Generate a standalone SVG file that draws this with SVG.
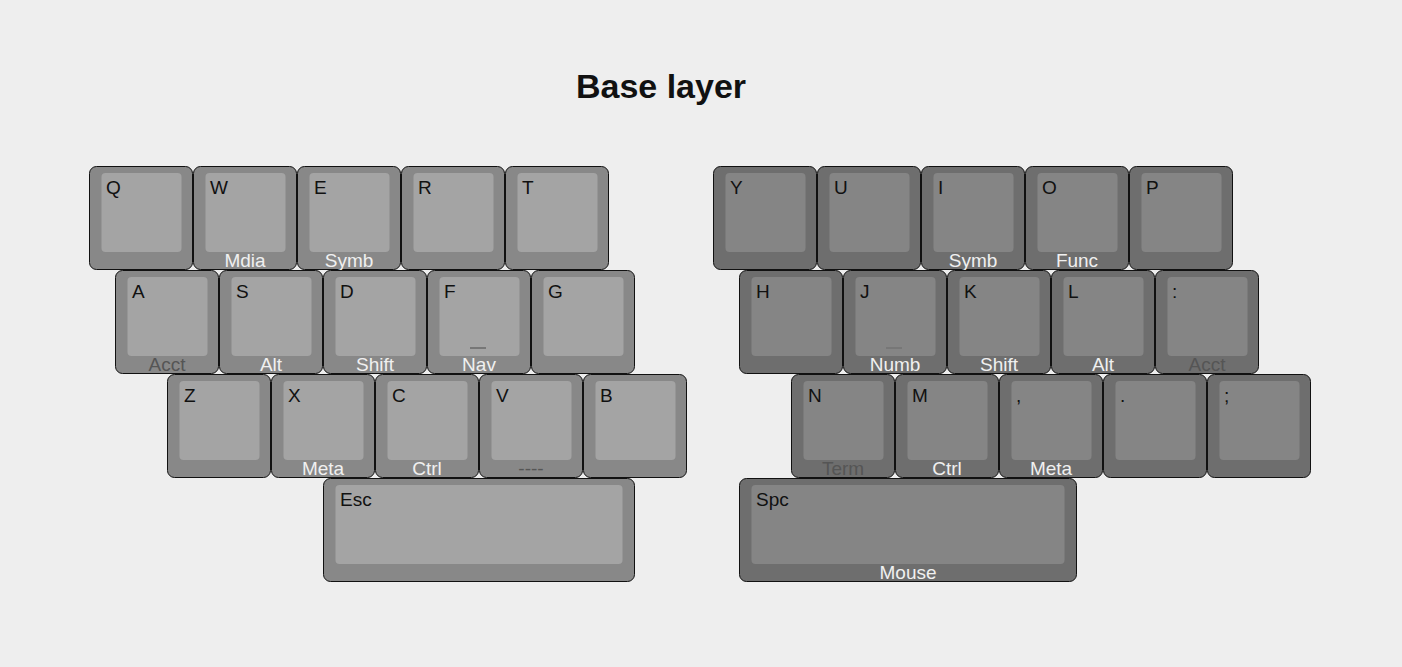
<svg xmlns="http://www.w3.org/2000/svg" width="1402" height="667" viewBox="0 0 1402 667">
<style>
.bg{fill:#eeeeee}
.title{font-family:"Liberation Sans",Arial,sans-serif;font-weight:bold;font-size:34px;fill:#111;text-anchor:middle}
.lo{fill:#888888;stroke:#111;stroke-width:1}
.li{fill:#a4a4a4}
.ro{fill:#6e6e6e;stroke:#111;stroke-width:1}
.ri{fill:#858585}
.t{font-family:"Liberation Sans",Arial,sans-serif;font-size:19px;fill:#111}
.h{font-family:"Liberation Sans",Arial,sans-serif;font-size:19px;fill:#f0f0f0;text-anchor:middle}
.d{font-family:"Liberation Sans",Arial,sans-serif;font-size:19px;fill:#555555;text-anchor:middle}
.bar{fill:#777777}
</style>
<rect class="bg" x="0" y="0" width="1402" height="667"/>
<text class="title" x="661" y="98">Base layer</text>
<g id="left">
<g id="k-q"><rect class="lo" x="89.5" y="166.5" width="103" height="103" rx="7"/><rect class="li" x="101.5" y="173" width="80" height="79" rx="4"/><text class="t" x="106" y="194">Q</text></g>
<g id="k-w"><rect class="lo" x="193.5" y="166.5" width="103" height="103" rx="7"/><rect class="li" x="205.5" y="173" width="80" height="79" rx="4"/><text class="t" x="210" y="194">W</text><text class="h" x="245" y="267">Mdia</text></g>
<g id="k-e"><rect class="lo" x="297.5" y="166.5" width="103" height="103" rx="7"/><rect class="li" x="309.5" y="173" width="80" height="79" rx="4"/><text class="t" x="314" y="194">E</text><text class="h" x="349" y="267">Symb</text></g>
<g id="k-r"><rect class="lo" x="401.5" y="166.5" width="103" height="103" rx="7"/><rect class="li" x="413.5" y="173" width="80" height="79" rx="4"/><text class="t" x="418" y="194">R</text></g>
<g id="k-t"><rect class="lo" x="505.5" y="166.5" width="103" height="103" rx="7"/><rect class="li" x="517.5" y="173" width="80" height="79" rx="4"/><text class="t" x="522" y="194">T</text></g>

<g id="k-a"><rect class="lo" x="115.5" y="270.5" width="103" height="103" rx="7"/><rect class="li" x="127.5" y="277" width="80" height="79" rx="4"/><text class="t" x="132" y="298">A</text><text class="d" x="167" y="371">Acct</text></g>
<g id="k-s"><rect class="lo" x="219.5" y="270.5" width="103" height="103" rx="7"/><rect class="li" x="231.5" y="277" width="80" height="79" rx="4"/><text class="t" x="236" y="298">S</text><text class="h" x="271" y="371">Alt</text></g>
<g id="k-d"><rect class="lo" x="323.5" y="270.5" width="103" height="103" rx="7"/><rect class="li" x="335.5" y="277" width="80" height="79" rx="4"/><text class="t" x="340" y="298">D</text><text class="h" x="375" y="371">Shift</text></g>
<g id="k-f"><rect class="lo" x="427.5" y="270.5" width="103" height="103" rx="7"/><rect class="li" x="439.5" y="277" width="80" height="79" rx="4"/><text class="t" x="444" y="298">F</text><rect class="bar" x="470" y="347" width="16" height="2"/><text class="h" x="479" y="371">Nav</text></g>
<g id="k-g"><rect class="lo" x="531.5" y="270.5" width="103" height="103" rx="7"/><rect class="li" x="543.5" y="277" width="80" height="79" rx="4"/><text class="t" x="548" y="298">G</text></g>

<g id="k-z"><rect class="lo" x="167.5" y="374.5" width="103" height="103" rx="7"/><rect class="li" x="179.5" y="381" width="80" height="79" rx="4"/><text class="t" x="184" y="402">Z</text></g>
<g id="k-x"><rect class="lo" x="271.5" y="374.5" width="103" height="103" rx="7"/><rect class="li" x="283.5" y="381" width="80" height="79" rx="4"/><text class="t" x="288" y="402">X</text><text class="h" x="323" y="475">Meta</text></g>
<g id="k-c"><rect class="lo" x="375.5" y="374.5" width="103" height="103" rx="7"/><rect class="li" x="387.5" y="381" width="80" height="79" rx="4"/><text class="t" x="392" y="402">C</text><text class="h" x="427" y="475">Ctrl</text></g>
<g id="k-v"><rect class="lo" x="479.5" y="374.5" width="103" height="103" rx="7"/><rect class="li" x="491.5" y="381" width="80" height="79" rx="4"/><text class="t" x="496" y="402">V</text><text class="d" x="531" y="475">----</text></g>
<g id="k-b"><rect class="lo" x="583.5" y="374.5" width="103" height="103" rx="7"/><rect class="li" x="595.5" y="381" width="80" height="79" rx="4"/><text class="t" x="600" y="402">B</text></g>

<g id="k-esc"><rect class="lo" x="323.5" y="478.5" width="311" height="103" rx="7"/><rect class="li" x="335.5" y="485" width="287" height="79" rx="4"/><text class="t" x="340" y="506">Esc</text></g>
</g>
<g id="right">
<g id="k-y"><rect class="ro" x="713.5" y="166.5" width="103" height="103" rx="7"/><rect class="ri" x="725.5" y="173" width="80" height="79" rx="4"/><text class="t" x="730" y="194">Y</text></g>
<g id="k-u"><rect class="ro" x="817.5" y="166.5" width="103" height="103" rx="7"/><rect class="ri" x="829.5" y="173" width="80" height="79" rx="4"/><text class="t" x="834" y="194">U</text></g>
<g id="k-i"><rect class="ro" x="921.5" y="166.5" width="103" height="103" rx="7"/><rect class="ri" x="933.5" y="173" width="80" height="79" rx="4"/><text class="t" x="938" y="194">I</text><text class="h" x="973" y="267">Symb</text></g>
<g id="k-o"><rect class="ro" x="1025.5" y="166.5" width="103" height="103" rx="7"/><rect class="ri" x="1037.5" y="173" width="80" height="79" rx="4"/><text class="t" x="1042" y="194">O</text><text class="h" x="1077" y="267">Func</text></g>
<g id="k-p"><rect class="ro" x="1129.5" y="166.5" width="103" height="103" rx="7"/><rect class="ri" x="1141.5" y="173" width="80" height="79" rx="4"/><text class="t" x="1146" y="194">P</text></g>

<g id="k-h"><rect class="ro" x="739.5" y="270.5" width="103" height="103" rx="7"/><rect class="ri" x="751.5" y="277" width="80" height="79" rx="4"/><text class="t" x="756" y="298">H</text></g>
<g id="k-j"><rect class="ro" x="843.5" y="270.5" width="103" height="103" rx="7"/><rect class="ri" x="855.5" y="277" width="80" height="79" rx="4"/><text class="t" x="860" y="298">J</text><rect class="bar" x="886" y="347" width="16" height="2"/><text class="h" x="895" y="371">Numb</text></g>
<g id="k-k"><rect class="ro" x="947.5" y="270.5" width="103" height="103" rx="7"/><rect class="ri" x="959.5" y="277" width="80" height="79" rx="4"/><text class="t" x="964" y="298">K</text><text class="h" x="999" y="371">Shift</text></g>
<g id="k-l"><rect class="ro" x="1051.5" y="270.5" width="103" height="103" rx="7"/><rect class="ri" x="1063.5" y="277" width="80" height="79" rx="4"/><text class="t" x="1068" y="298">L</text><text class="h" x="1103" y="371">Alt</text></g>
<g id="k-colon"><rect class="ro" x="1155.5" y="270.5" width="103" height="103" rx="7"/><rect class="ri" x="1167.5" y="277" width="80" height="79" rx="4"/><text class="t" x="1172" y="298">:</text><text class="d" x="1207" y="371">Acct</text></g>

<g id="k-n"><rect class="ro" x="791.5" y="374.5" width="103" height="103" rx="7"/><rect class="ri" x="803.5" y="381" width="80" height="79" rx="4"/><text class="t" x="808" y="402">N</text><text class="d" x="843" y="475">Term</text></g>
<g id="k-m"><rect class="ro" x="895.5" y="374.5" width="103" height="103" rx="7"/><rect class="ri" x="907.5" y="381" width="80" height="79" rx="4"/><text class="t" x="912" y="402">M</text><text class="h" x="947" y="475">Ctrl</text></g>
<g id="k-comma"><rect class="ro" x="999.5" y="374.5" width="103" height="103" rx="7"/><rect class="ri" x="1011.5" y="381" width="80" height="79" rx="4"/><text class="t" x="1016" y="402">,</text><text class="h" x="1051" y="475">Meta</text></g>
<g id="k-dot"><rect class="ro" x="1103.5" y="374.5" width="103" height="103" rx="7"/><rect class="ri" x="1115.5" y="381" width="80" height="79" rx="4"/><text class="t" x="1120" y="402">.</text></g>
<g id="k-semi"><rect class="ro" x="1207.5" y="374.5" width="103" height="103" rx="7"/><rect class="ri" x="1219.5" y="381" width="80" height="79" rx="4"/><text class="t" x="1224" y="402">;</text></g>

<g id="k-spc"><rect class="ro" x="739.5" y="478.5" width="337" height="103" rx="7"/><rect class="ri" x="751.5" y="485" width="313" height="79" rx="4"/><text class="t" x="756" y="506">Spc</text><text class="h" x="908" y="579">Mouse</text></g>
</g>
<g id="connectors"/>
</svg>
